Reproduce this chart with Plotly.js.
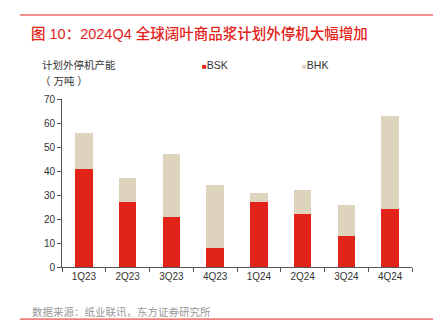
<!DOCTYPE html>
<html>
<head>
<meta charset="utf-8">
<script src="https://cdn.plot.ly/plotly-3.0.1.min.js"></script>
<style>html,body{margin:0;padding:0;background:#fff;}#chart{width:441px;height:331px;}</style>
</head>
<body>
<div id="chart"></div>
<script>
const categories = ["1Q23","2Q23","3Q23","4Q23","1Q24","2Q24","3Q24","4Q24"];
const bskValues = [41, 27, 21, 8, 27, 22, 13, 24];
const bhkValues = [15, 10, 26, 26, 4, 10, 13, 39];
const seriesNames = ["BSK", "BHK"];
const seriesColors = ["#E2231A", "#DED4BD"];
const yTicks = [0,10,20,30,40,50,60,70];
const titleText = "图 10：2024Q4 全球阔叶商品浆计划外停机大幅增加";
const sourceText = "数据来源：纸业联讯，东方证券研究所";
const yTitleLines = ["计划外停机产能", "（ 万吨 ）"];

const FONT = "'Liberation Sans', Arial, 'Noto Sans CJK SC', sans-serif";
const CJK = "'Liberation Sans', 'Noto Sans CJK SC', sans-serif";

const traces = [
  {type:"bar", name:seriesNames[0], x:categories, y:bskValues, marker:{color:seriesColors[0]}, width:0.4},
  {type:"bar", name:seriesNames[1], x:categories, y:bhkValues, marker:{color:seriesColors[1]}, width:0.4}
];

const legendAnn = seriesNames.map((n, i) => ({
  text: '<span style="color:' + seriesColors[i] + ';font-size:8px">■</span>' + n,
  xref:"paper", yref:"paper", x:[0.393, 0.679][i], y:1.2, xanchor:"left", yanchor:"middle",
  showarrow:false, font:{family:FONT, size:10.5, color:"#333"}
}));

const layout = {
  width:441, height:331,
  margin:{l:62, r:29, t:99, b:64},
  barmode:"stack",
  paper_bgcolor:"#fff", plot_bgcolor:"#fff",
  font:{family:FONT, size:10, color:"#333"},
  showlegend:false,
  xaxis:{showline:true, linecolor:"#555", linewidth:1, ticks:"outside", ticklen:4, tickcolor:"#555",
         showgrid:false, zeroline:false, tickfont:{size:10,color:"#333"}, tickson:"boundaries"},
  yaxis:{range:[0,70], tickvals:yTicks, showline:true, linecolor:"#555", linewidth:1, ticks:"outside",
         ticklen:4, tickcolor:"#555", showgrid:false, zeroline:false, tickfont:{size:10,color:"#333"}},
  annotations:[
    {text:titleText, xref:"paper", yref:"paper", x:-0.095, y:1.39, xanchor:"left", yanchor:"middle",
     showarrow:false, font:{family:CJK, size:14.5, weight:500, color:"#E2231A"}},
    {text:yTitleLines[0], xref:"paper", yref:"paper", x:-0.063, y:1.2, xanchor:"left", yanchor:"middle",
     showarrow:false, font:{family:CJK, size:10.5, color:"#333"}},
    {text:yTitleLines[1], xref:"paper", yref:"paper", x:-0.07, y:1.11, xanchor:"left", yanchor:"middle",
     showarrow:false, font:{family:CJK, size:10.5, color:"#333"}},
    {text:sourceText, xref:"paper", yref:"paper", x:-0.092, y:-0.265, xanchor:"left", yanchor:"middle",
     showarrow:false, font:{family:CJK, size:10.5, color:"#999"}}
  ].concat(legendAnn),
  shapes:[
    {type:"line", xref:"paper", yref:"paper", x0:-0.12, x1:1.06, y0:1.5, y1:1.5, line:{color:"#E2231A", width:1}},
    {type:"line", xref:"paper", yref:"paper", x0:-0.12, x1:1.06, y0:-0.31, y1:-0.31, line:{color:"#E2231A", width:1}}
  ]
};

Plotly.newPlot("chart", traces, layout, {displayModeBar:false, staticPlot:true});
</script>
</body>
</html>
